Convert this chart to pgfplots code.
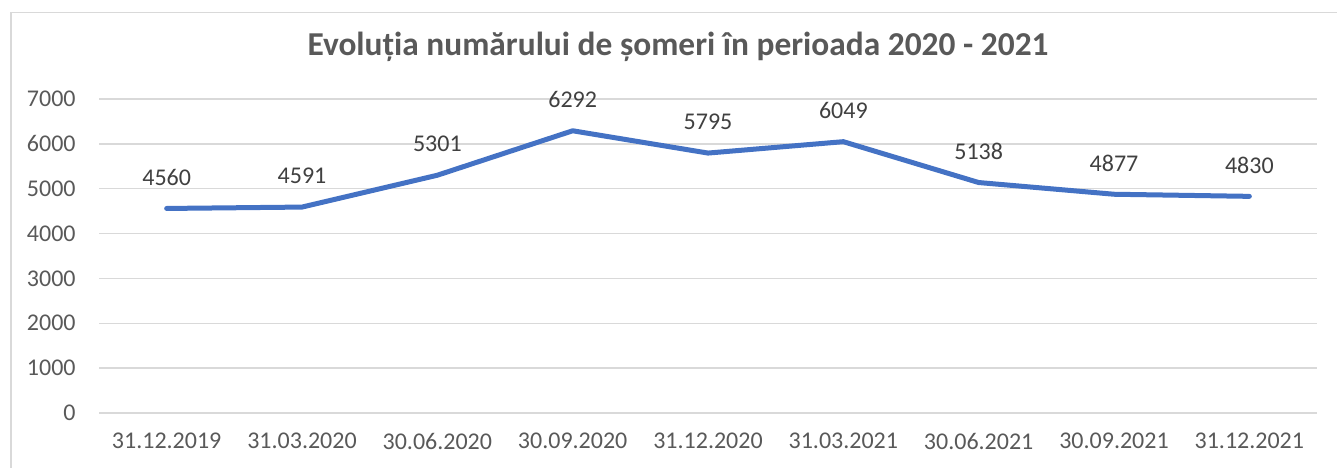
\documentclass[border=0pt]{standalone}
\usepackage{fontspec}
\setmainfont{Carlito}
\usepackage{pgfplots}
\pgfplotsset{compat=1.18}
\definecolor{lineblue}{HTML}{4472C4}
\definecolor{gridgray}{HTML}{D9D9D9}
\definecolor{txtgray}{HTML}{595959}
\definecolor{lblgray}{HTML}{404040}
\begin{document}
\begin{tikzpicture}
\path[use as bounding box] (0,0) rectangle (668.5pt,233.5pt);
\draw[gridgray, line width=0.75pt] (5.5pt,-5pt) -- (5.5pt,227.25pt) -- (680pt,227.25pt);
\node[font=\fontsize{16.7}{19}\selectfont\bfseries, text=txtgray] at (339pt,210pt) {Evoluția numărului de șomeri în perioada 2020 - 2021};
\begin{axis}[
  at={(49.5pt,27pt)}, anchor=south west,
  scale only axis, width=609pt, height=157pt,
  xmin=-0.5, xmax=8.5, ymin=0, ymax=7000,
  xtick={0,...,8},
  xticklabels={31.12.2019,31.03.2020,30.06.2020,30.09.2020,31.12.2020,31.03.2021,30.06.2021,30.09.2021,31.12.2021},
  ytick={0,1000,...,7000},
  axis line style={draw=none},
  major tick length=0pt,
  ymajorgrids, grid style={gridgray, line width=0.75pt},
  tick label style={font=\fontsize{12}{14}\selectfont, text=txtgray},
  xticklabel style={anchor=center, yshift=-14pt},
  yticklabel style={anchor=east, inner sep=0pt, xshift=-11.5pt},
  /pgf/number format/assume math mode=true,
  yticklabel={\pgfmathprintnumber[fixed,1000 sep={}]{\tick}},
  nodes near coords,
  every node near coord/.append style={anchor=center, yshift=15.5pt, font=\fontsize{12}{14}\selectfont, text=lblgray, /pgf/number format/.cd, fixed, 1000 sep={}},
  clip=false,
]
\addplot[lineblue, line width=2.5pt, line join=round, line cap=round, mark=none] coordinates {
(0,4560) (1,4591) (2,5301) (3,6292) (4,5795) (5,6049) (6,5138) (7,4877) (8,4830)
};
\end{axis}
\end{tikzpicture}
\end{document}
